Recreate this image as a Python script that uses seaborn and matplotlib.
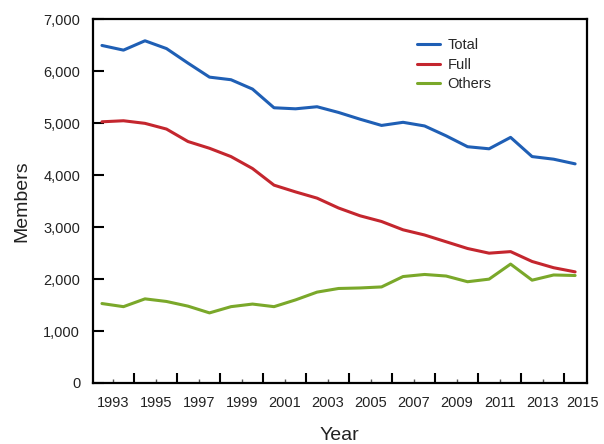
import matplotlib
matplotlib.use("Agg")
import matplotlib.pyplot as plt
import seaborn as sns
import pandas as pd
import numpy as np
from matplotlib.ticker import FixedLocator, FuncFormatter

years = list(range(1993, 2016))
total = [6500, 6410, 6590, 6440, 6160, 5890, 5840, 5660, 5300, 5280, 5320, 5210,
         5080, 4960, 5020, 4950, 4760, 4550, 4510, 4730, 4360, 4310, 4220]
full = [5030, 5050, 5000, 4890, 4650, 4520, 4360, 4130, 3810, 3680, 3560, 3370,
        3220, 3110, 2950, 2850, 2720, 2590, 2500, 2530, 2340, 2220, 2140]
others = [1530, 1470, 1620, 1570, 1480, 1350, 1470, 1520, 1470, 1600, 1750, 1820,
          1830, 1850, 2050, 2090, 2060, 1950, 2000, 2290, 1980, 2080, 2070]
series_names = ["Total", "Full", "Others"]
colors = ["#1f5fb5", "#c4262e", "#7aa82a"]
tick_labels = [str(y) for y in range(1993, 2016, 2)]

df = pd.DataFrame({"Year": years, "Total": total, "Full": full, "Others": others})
long = df.melt(id_vars="Year", var_name="Series", value_name="Members")

sns.set_style("white")
plt.rcParams["font.family"] = ["Liberation Sans", "DejaVu Sans"]

fig = plt.figure(figsize=(6.04, 4.44), dpi=100)
ax = fig.add_axes([0.1535, 0.1374, 0.8179, 0.8187])
sns.lineplot(data=long, x="Year", y="Members", hue="Series",
             hue_order=series_names, palette=colors, linewidth=2.2, ax=ax)

ax.set_xlim(1992.57, 2015.54)
ax.set_ylim(0, 7000)
ax.yaxis.set_major_locator(FixedLocator(range(0, 7001, 1000)))
ax.yaxis.set_major_formatter(FuncFormatter(lambda v, p: f"{int(v):,}"))

# tick marks between years; labels at odd years
major_ticks = [y + 0.5 for y in range(1994, 2015, 2)]
minor_ticks = [y + 0.5 for y in range(1993, 2015, 2)]
ax.xaxis.set_major_locator(FixedLocator(major_ticks))
ax.xaxis.set_minor_locator(FixedLocator(minor_ticks))
ax.set_xticklabels([])
for lbl in tick_labels:
    y = int(lbl)
    ax.text(y + 0.5 if y < 2015 else 2015.36, -0.035, lbl, transform=ax.get_xaxis_transform(),
            ha="center", va="top", fontsize=10.5, color="#222222")

ax.tick_params(axis="x", which="both", bottom=True)
ax.tick_params(axis="y", which="both", left=True)
ax.tick_params(axis="x", which="major", direction="in", length=7, width=1.5, color="black")
ax.tick_params(axis="x", which="minor", direction="in", length=3, width=1, color="#555555")
ax.tick_params(axis="y", which="major", direction="in", length=8, width=1.5, color="black",
               pad=9, labelsize=10.5, labelcolor="#222222")

for s in ax.spines.values():
    s.set_visible(True)
    s.set_color("black")
    s.set_linewidth(1.6)

ax.set_xlabel("Year", fontsize=14, labelpad=28, color="#222222")
ax.set_ylabel("Members", fontsize=14, labelpad=9, color="#222222")

leg = ax.legend(title=None, loc="upper left", bbox_to_anchor=(0.63, 0.985), frameon=False,
                fontsize=10.5, handlelength=1.6, handletextpad=0.5, labelspacing=0.38)
for line in leg.get_lines():
    line.set_linewidth(2.2)

fig.savefig("out.png", dpi=100)
